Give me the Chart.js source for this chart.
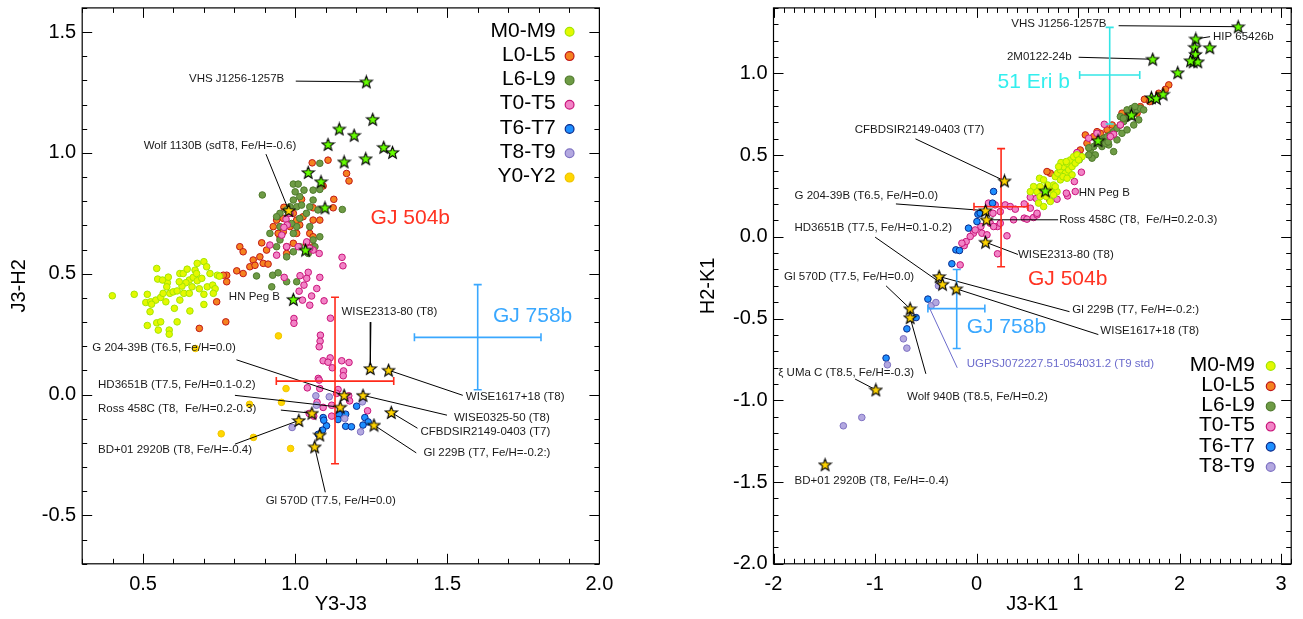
<!DOCTYPE html>
<html>
<head>
<meta charset="utf-8">
<script src="https://cdn.jsdelivr.net/npm/chart.js@4.4.1/dist/chart.umd.min.js"></script>
<style>
  body { margin: 0; background: #fff; }
  #wrap { position: relative; width: 1303px; height: 619px; }
  canvas { position: absolute; top: 0; }
</style>
</head>
<body>
<div id="wrap">
  <canvas id="chartYJ" width="650" height="619" style="left:0"></canvas>
  <canvas id="chartJK" width="653" height="619" style="left:650px"></canvas>
</div>
<script>
const FONT = '"Liberation Sans", Arial, Helvetica, sans-serif';

// --- Spectral classes ---
const classNames = ['M0-M9', 'L0-L5', 'L6-L9', 'T0-T5', 'T6-T7', 'T8-T9', 'Y0-Y2'];
const classFill  = ['#e4f800', '#f5821f', '#6e9b45', '#f283c6', '#1e8fff', '#b3a8e0', '#ffd700'];
const classEdge  = ['#a2e600', '#c01818', '#4f7a2c', '#c8157a', '#0a2a8a', '#7f72c2', '#f0c400'];
const classOrder = [13, 16, 15, 14, 12, 11, 10];

// --- Left panel: Y3-J3 vs J3-H2 ---
const yjM0M9 = [[0.399,0.409],[0.471,0.415],[0.514,0.415],[0.509,0.381],[0.525,0.384],[0.542,0.391],[0.558,0.402],
  [0.545,0.522],[0.548,0.478],[0.580,0.463],[0.588,0.419],[0.575,0.384],[0.564,0.474],[0.583,0.486],[0.599,0.425],
  [0.612,0.429],[0.621,0.501],[0.632,0.501],[0.645,0.519],[0.652,0.474],[0.641,0.463],[0.628,0.449],[0.634,0.419],
  [0.652,0.419],[0.661,0.446],[0.678,0.543],[0.671,0.515],[0.665,0.485],[0.678,0.471],[0.693,0.481],[0.700,0.550],
  [0.709,0.529],[0.685,0.438],[0.700,0.415],[0.711,0.446],[0.729,0.453],[0.737,0.438],[0.731,0.419],[0.744,0.494],
  [0.751,0.490],[0.523,0.343],[0.545,0.297],[0.558,0.301],[0.514,0.286],[0.550,0.267],[0.586,0.267],[0.586,0.250],
  [0.612,0.301],[0.654,0.346],[0.603,0.357],[0.700,0.373],[0.720,0.501],[0.578,0.446],[0.619,0.467],[0.676,0.501],
  [0.621,0.391],[0.528,0.374],[0.566,0.419]];
const yjL0L5 = [[1.056,0.959],[1.108,0.970],[1.169,0.915],[1.177,0.884],[1.127,0.808],[1.125,0.773],[1.092,0.863],
  [0.963,0.775],[1.021,0.808],[1.059,0.773],[0.961,0.729],[0.994,0.750],[1.026,0.736],[1.059,0.722],[1.081,0.722],
  [1.015,0.702],[1.048,0.667],[1.059,0.653],[1.037,0.626],[0.994,0.626],[0.972,0.612],[0.950,0.653],[0.961,0.674],
  [1.005,0.667],[0.890,0.628],[0.818,0.612],[0.829,0.591],[0.884,0.570],[0.862,0.557],[0.895,0.543],[0.911,0.540],
  [0.851,0.529],[0.868,0.535],[0.808,0.512],[0.829,0.501],[0.775,0.494],[0.775,0.467],[0.764,0.494],[0.742,0.384],
  [0.772,0.301],[0.685,0.274],[0.928,0.695],[0.939,0.722],[0.944,0.667],[0.972,0.584],[0.906,0.598],[1.059,0.612],
  [1.005,0.722],[0.983,0.695]];
const yjL6L9 = [[0.892,0.826],[0.994,0.871],[1.010,0.871],[1.029,0.846],[1.059,0.846],[1.081,0.849],[1.155,0.766],
  [1.059,0.805],[1.015,0.819],[0.994,0.805],[0.983,0.777],[0.972,0.764],[0.950,0.750],[0.939,0.736],[1.005,0.777],
  [1.048,0.777],[1.037,0.750],[1.075,0.764],[1.015,0.729],[1.005,0.695],[0.988,0.708],[0.950,0.695],[0.917,0.667],
  [0.939,0.612],[0.994,0.591],[1.015,0.612],[0.972,0.570],[0.950,0.640],[1.059,0.640],[1.081,0.653],[0.873,0.491],
  [0.923,0.446],[0.926,0.494],[0.944,0.504],[0.972,0.467],[1.005,0.467],[1.043,0.584],[1.065,0.612],[1.081,0.957],
  [1.048,0.695],[0.994,0.667],[1.000,0.839],[1.021,0.784]];
const yjT0T5 = [[1.154,0.568],[1.157,0.533],[1.024,0.391],[1.048,0.370],[1.095,0.388],[0.996,0.315],[0.996,0.295],
  [1.116,0.316],[1.083,0.246],[1.082,0.221],[1.115,0.152],[1.153,0.140],[1.159,0.098],[1.158,0.078],[1.122,0.111],
  [1.092,0.140],[1.079,0.198],[1.076,0.067],[1.040,0.028],[1.081,0.025],[1.072,-0.032],[1.038,0.632],[1.016,0.492],
  [1.038,0.481],[1.071,0.439],[1.013,0.428],[1.054,0.408],[1.081,0.485],[1.043,0.506],[1.029,0.453],[0.964,0.485],
  [0.939,0.577],[0.917,0.619],[0.956,0.660],[0.972,0.612],[0.970,0.726],[0.974,0.702],[0.963,0.692],[0.983,0.750],
  [1.059,0.598],[1.079,0.584],[1.010,0.612],[1.048,0.605],[1.108,0.134],[1.177,0.133],[1.079,0.060],[1.141,0.021],
  [1.176,-0.005],[1.092,-0.053],[1.120,-0.044],[1.179,-0.026],[1.238,-0.067],[1.061,-0.089],[1.046,-0.078],
  [1.120,-0.089],[1.136,0.005]];
const yjT6T7 = [[1.202,-0.048],[1.144,-0.081],[1.141,-0.103],[1.166,-0.081],[1.092,-0.095],[1.103,-0.129],
  [1.094,-0.106],[1.166,-0.131],[1.185,-0.133],[1.229,-0.095],[1.240,-0.113],[1.223,-0.126],[1.090,-0.147],
  [1.076,-0.164]];
const yjT8T9 = [[1.068,-0.005],[1.112,-0.009],[1.070,-0.044],[1.163,-0.099],[1.221,-0.030],[1.215,-0.154],[0.990,-0.136]];
const yjY0Y2 = [[0.945,0.243],[0.672,0.191],[0.970,0.025],[0.955,-0.032],[0.850,-0.040],[0.757,-0.162],
  [0.863,-0.177],[0.985,-0.223]];
const yjGreenStars = [[1.234,1.294],[1.255,1.139],[1.145,1.099],[1.194,1.073],[1.108,1.035],[1.291,1.023],
  [1.320,1.002],[1.161,0.963],[1.232,0.976],[1.043,0.919],[1.085,0.881],[1.098,0.773],[1.034,0.598],[0.994,0.394]];
const yjGoldStars = [[0.979,0.762],[1.247,0.108],[1.307,0.101],[1.161,-0.003],[1.223,-0.003],[1.148,-0.052],
  [1.055,-0.077],[1.316,-0.074],[1.012,-0.107],[1.259,-0.126],[1.064,-0.216],[1.081,-0.167]];
// x, xLo, xHi, y, yLo, yHi
const yjGJ504b = [1.131, 0.938, 1.324, 0.056, -0.286, 0.403];
const yjGJ758b = [1.600, 1.392, 1.808, 0.237, 0.020, 0.455];
const yjXTicks = [0.5, 1.0, 1.5, 2.0];
const yjYTicks = [-0.5, 0.0, 0.5, 1.0, 1.5];

// --- Right panel: J3-K1 vs H2-K1 ---
const jkM0M9 = [[0.621,0.358],[0.627,0.307],[0.595,0.276],[0.611,0.206],[0.687,0.246],[0.727,0.287],[0.759,0.317],
  [0.776,0.368],[0.799,0.389],[0.826,0.409],[0.858,0.429],[0.892,0.450],[0.924,0.470],[0.957,0.490],[0.990,0.501],
  [1.039,0.490],[0.875,0.389],[0.908,0.409],[0.941,0.429],[0.826,0.348],[0.852,0.368],[0.793,0.276],[0.759,0.256],
  [0.727,0.216],[0.661,0.185],[0.562,0.307],[0.661,0.348],[0.832,0.454],[0.884,0.460],[0.973,0.450],[0.941,0.379],
  [0.809,0.429],[0.892,0.358],[0.700,0.317],[0.627,0.246],[0.530,0.276],[0.776,0.307],[1.006,0.470]];
const jkL0L5 = [[1.894,0.929],[1.861,0.902],[1.654,0.841],[1.795,0.878],[1.706,0.827],[1.614,0.796],[1.582,0.756],
  [1.450,0.735],[1.433,0.756],[1.336,0.684],[1.286,0.654],[1.220,0.633],[1.154,0.613],[1.088,0.572],[1.022,0.531],
  [0.990,0.511],[0.727,0.389],[0.694,0.399],[1.072,0.623],[1.187,0.643]];
const jkL6L9 = [[1.121,0.531],[1.154,0.552],[1.187,0.572],[1.220,0.582],[1.252,0.603],[1.286,0.613],[1.318,0.623],
  [1.351,0.643],[1.384,0.664],[1.417,0.684],[1.450,0.705],[1.483,0.725],[1.516,0.735],[1.549,0.756],[1.582,0.776],
  [1.614,0.786],[1.647,0.776],[1.351,0.521],[1.302,0.562],[1.384,0.593],[1.433,0.633],[1.483,0.654],[1.549,0.684],
  [1.598,0.715],[1.417,0.735],[1.483,0.776],[1.532,0.786],[1.236,0.552],[1.269,0.572],[1.170,0.501],[1.138,0.481],
  [1.105,0.501],[1.561,0.797],[1.447,0.725],[1.220,0.592],[1.106,0.544],[1.011,0.471],[1.296,0.580]];
const jkT0T5 = [[-0.161,-0.172],[-0.121,-0.054],[-0.102,-0.029],[-0.144,-0.039],[-0.030,0.022],[0.043,0.063],
  [0.135,0.083],[0.207,0.063],[0.300,0.006],[0.207,-0.104],[0.162,0.144],[0.234,0.154],[0.283,0.195],[0.332,0.185],
  [0.365,0.104],[0.184,0.195],[0.118,0.206],[0.053,0.022],[0.103,0.012],[-0.062,0.002],[-0.013,0.042],[0.470,0.114],
  [0.562,0.118],[0.596,0.134],[0.382,0.169],[0.470,0.201],[0.530,0.175],[0.234,0.083],[0.168,0.063],[0.530,0.242],
  [0.628,0.270],[0.720,0.226],[0.793,0.230],[0.897,0.250],[0.973,0.277],[0.964,0.338],[0.990,0.515],[0.589,0.234],
  [1.259,0.688],[1.351,0.627],[1.033,0.395],[0.885,0.267],[0.596,0.144],[0.497,0.108],[1.105,0.603],[1.319,0.613],
  [1.187,0.633],[1.417,0.684]];
const jkT6T7 = [[0.168,0.277],[0.158,0.206],[0.014,0.138],[0.004,0.093],[-0.079,0.053],[-0.203,-0.080],
  [-0.168,-0.084],[-0.243,-0.165],[-0.479,-0.381],[-0.595,-0.494],[-0.686,-0.563],[-0.891,-0.742],[0.036,0.145]];
const jkT8T9 = [[-0.447,-0.422],[-0.400,-0.402],[-0.720,-0.624],[-0.686,-0.681],[-0.878,-0.783],[-1.130,-1.105],
  [-1.312,-1.156],[-0.375,-0.300]];
const jkGreenStars = [[2.578,1.285],[2.160,1.210],[2.298,1.157],[2.150,1.159],[2.157,1.116],[2.134,1.071],
  [2.180,1.071],[2.108,1.077],[1.736,1.086],[1.982,1.004],[1.723,0.851],[1.772,0.847],[1.838,0.872],[1.526,0.745],
  [1.197,0.588],[0.678,0.281]];
const jkGoldStars = [[0.276,0.342],[0.089,0.160],[0.099,0.104],[0.089,-0.033],[-0.368,-0.243],[-0.335,-0.290],
  [-0.200,-0.318],[-0.654,-0.440],[-0.654,-0.494],[-0.992,-0.936],[-1.492,-1.394]];
const jkGJ504b = [0.242, -0.025, 0.507, 0.184, -0.183, 0.539];
const jkGJ758b = [-0.195, -0.479, 0.082, -0.439, -0.683, -0.200];
const jk51Erib = [1.312, 1.016, 1.608, 0.990, 0.690, 1.281];
const jkXTicks = [-2, -1, 0, 1, 2, 3];
const jkYTicks = [-2.0, -1.5, -1.0, -0.5, 0.0, 0.5, 1.0];

// --- Annotations: text, text x/y, leader start x/y, leader end x/y, colour ---
const yjNotes = [
  ['VHS J1256-1257B', 0.651, 1.306, 1.002, 1.297, 1.234, 1.294],
  ['Wolf 1130B (sdT8, Fe/H=-0.6)', 0.502, 1.030, 0.904, 0.995, 0.979, 0.762],
  ['HN Peg B', 0.782, 0.403],
  ['WISE2313-80 (T8)', 1.152, 0.343, 1.249, 0.300, 1.247, 0.108],
  ['G 204-39B (T6.5, Fe/H=0.0)', 0.333, 0.192, 0.807, 0.144, 1.161, -0.003],
  ['HD3651B (T7.5, Fe/H=0.1-0.2)', 0.352, 0.041, 0.802, -0.003, 1.148, -0.052],
  ['Ross 458C (T8,  Fe/H=0.2-0.3)', 0.352, -0.057, 0.953, -0.064, 1.055, -0.077],
  ['BD+01 2920B (T8, Fe/H=-0.4)', 0.352, -0.229, 0.802, -0.205, 1.012, -0.107],
  ['Gl 570D (T7.5, Fe/H=0.0)', 0.903, -0.439, 1.099, -0.404, 1.064, -0.216],
  ['WISE1617+18 (T8)', 1.561, -0.008, 1.551, -0.003, 1.307, 0.101],
  ['WISE0325-50 (T8)', 1.522, -0.098, 1.499, -0.085, 1.223, -0.003],
  ['CFBDSIR2149-0403 (T7)', 1.412, -0.155, 1.402, -0.139, 1.316, -0.074],
  ['Gl 229B (T7, Fe/H=-0.2:)', 1.422, -0.241, 1.398, -0.241, 1.259, -0.126]
];
const jkNotes = [
  ['VHS J1256-1257B', 0.342, 1.302, 1.400, 1.291, 2.578, 1.285],
  ['HIP 65426b', 2.329, 1.224, 2.301, 1.224, 2.160, 1.210],
  ['2M0122-24b', 0.300, 1.098, 1.006, 1.098, 1.736, 1.086],
  ['CFBDSIR2149-0403 (T7)', -1.200, 0.654, -0.601, 0.599, 0.276, 0.342],
  ['G 204-39B (T6.5, Fe/H=0.0)', -1.793, 0.250, -0.794, 0.201, 0.089, 0.160],
  ['Ross 458C (T8,  Fe/H=0.2-0.3)', 0.814, 0.104, 0.803, 0.104, 0.099, 0.104],
  ['HD3651B (T7.5, Fe/H=0.1-0.2)', -1.793, 0.055, -0.999, -0.002, -0.335, -0.290],
  ['Gl 229B (T7, Fe/H=-0.2:)', 0.943, -0.447, 0.916, -0.458, -0.368, -0.243],
  ['WISE1617+18 (T8)', 1.220, -0.574, 1.200, -0.598, -0.200, -0.318],
  ['Gl 570D (T7.5, Fe/H=0.0)', -1.896, -0.243, -0.891, -0.300, -0.654, -0.440],
  ['Wolf 940B (T8.5, Fe/H=0.2)', -0.685, -0.977, -0.499, -0.838, -0.654, -0.494],
  ['\u03BE UMa C (T8.5, Fe/H=-0.3)', -1.953, -0.830, -1.196, -0.870, -0.992, -0.936],
  ['BD+01 2920B (T8, Fe/H=-0.4)', -1.792, -1.495],
  ['WISE2313-80 (T8)', 0.408, -0.108, 0.408, -0.108, 0.089, -0.033],
  ['HN Peg B', 1.007, 0.267],
  ['UGPSJ072227.51-054031.2 (T9 std)', -0.097, -0.777, -0.190, -0.801, -0.468, -0.429, '#6b6bcc']
];
const yjBigNotes = [['GJ 504b', 1.248, 0.729, '#ff3322'], ['GJ 758b', 1.650, 0.326, '#3aa8ff']];
const jkBigNotes = [['51 Eri b', 0.207, 0.943, '#33eeee'], ['GJ 504b', 0.507, -0.257, '#ff3322'],
  ['GJ 758b', -0.097, -0.555, '#3aa8ff']];

function pts(arr) { return arr.map(([x, y]) => ({ x, y })); }

function makeStar(fill) {
  const c = document.createElement('canvas');
  c.width = 15; c.height = 15;
  const g = c.getContext('2d');
  g.beginPath();
  for (let i = 0; i < 10; i++) {
    const r = i % 2 === 0 ? 6.4 : 2.7;
    const ang = -Math.PI / 2 + i * Math.PI / 5;
    const px = 7.5 + r * Math.cos(ang), py = 8 + r * Math.sin(ang);
    if (i === 0) g.moveTo(px, py); else g.lineTo(px, py);
  }
  g.closePath();
  g.fillStyle = fill; g.fill();
  g.lineWidth = 1.1; g.strokeStyle = '#000'; g.stroke();
  return c;
}
const greenStar = makeStar('#66ff00');
const goldStar = makeStar('#ffd400');

function makePanel(canvasId, p) {
  const datasets = [];
  p.classes.forEach((arr, i) => {
    if (!arr) return;
    datasets.push({
      data: pts(arr), pointStyle: 'circle', pointRadius: 3.3,
      backgroundColor: classFill[i], borderColor: classEdge[i], borderWidth: 1, order: classOrder[i]
    });
  });
  p.notes.forEach(n => {
    if (n.length < 7) return;
    datasets.push({
      data: [{ x: n[3], y: n[4] }, { x: n[5], y: n[6] }], showLine: true,
      borderColor: n[7] || '#000', borderWidth: 1, pointRadius: 0, order: 5
    });
  });
  p.bars.forEach(([b, color]) => {
    const [x, xLo, xHi, y, yLo, yHi] = b;
    const common = { showLine: true, borderColor: color, borderWidth: 1.6, pointStyle: 'line',
      pointRadius: 4, pointBorderColor: color, pointBorderWidth: 1.6, order: 4 };
    datasets.push({ ...common, data: [{ x, y: yLo }, { x, y: yHi }], pointRotation: 0 });
    datasets.push({ ...common, data: [{ x: xLo, y }, { x: xHi, y }], pointRotation: 90 });
  });
  datasets.push({ data: pts(p.greenStars), pointStyle: greenStar, pointRadius: 6, order: 1 });
  datasets.push({ data: pts(p.goldStars), pointStyle: goldStar, pointRadius: 6, order: 1 });

  const decor = {
    id: 'decor',
    afterDatasetsDraw(chart) {
      const { ctx, chartArea: a, scales: { x, y } } = chart;
      ctx.save();
      // frame with inward ticks on all sides
      ctx.strokeStyle = '#000';
      ctx.lineWidth = 1.2;
      ctx.strokeRect(a.left, a.top, a.right - a.left, a.bottom - a.top);
      ctx.lineWidth = 1;
      ctx.beginPath();
      for (let i = Math.ceil(p.xRange[0] * 10 - 1e-6); i <= Math.floor(p.xRange[1] * 10 + 1e-6); i++) {
        const px = Math.round(x.getPixelForValue(i / 10)) + 0.5;
        const len = i % p.xMajorEvery === 0 ? 10 : 5;
        ctx.moveTo(px, a.bottom); ctx.lineTo(px, a.bottom - len);
        ctx.moveTo(px, a.top); ctx.lineTo(px, a.top + len);
      }
      for (let i = Math.ceil(p.yRange[0] * 10 - 1e-6); i <= Math.floor(p.yRange[1] * 10 + 1e-6); i++) {
        const py = Math.round(y.getPixelForValue(i / 10)) + 0.5;
        const len = i % p.yMajorEvery === 0 ? 10 : 5;
        ctx.moveTo(a.left, py); ctx.lineTo(a.left + len, py);
        ctx.moveTo(a.right, py); ctx.lineTo(a.right - len, py);
      }
      ctx.stroke();

      // small labels
      ctx.textBaseline = 'middle';
      ctx.textAlign = 'left';
      ctx.font = `11.5px ${FONT}`;
      p.notes.forEach(n => {
        ctx.fillStyle = n[7] || '#1a1a1a';
        ctx.fillText(n[0], x.getPixelForValue(n[1]), y.getPixelForValue(n[2]));
      });
      // planet labels
      ctx.font = `21px ${FONT}`;
      p.bigNotes.forEach(([t, tx, ty, c]) => {
        ctx.fillStyle = c;
        ctx.fillText(t, x.getPixelForValue(tx), y.getPixelForValue(ty));
      });
      // legend
      p.legendClasses.forEach((ci, k) => {
        const ly = p.legendTop + k * p.legendGap;
        ctx.textAlign = 'right';
        ctx.fillStyle = '#000';
        ctx.fillText(classNames[ci], a.right - p.legendTextOff, ly);
        ctx.beginPath();
        ctx.arc(a.right - p.legendMarkerOff, ly + 1, 4.4, 0, Math.PI * 2);
        ctx.fillStyle = classFill[ci]; ctx.fill();
        ctx.lineWidth = 1.2; ctx.strokeStyle = classEdge[ci]; ctx.stroke();
      });
      // axis titles
      ctx.font = `20px ${FONT}`;
      ctx.fillStyle = '#000';
      ctx.textAlign = 'center';
      ctx.fillText(p.xTitle, (a.left + a.right) / 2, 604);
      ctx.translate(p.yTitleX, (a.top + a.bottom) / 2);
      ctx.rotate(-Math.PI / 2);
      ctx.fillText(p.yTitle, 0, 0);
      ctx.restore();
    }
  };

  const tickFont = { family: FONT, size: 20 };
  return new Chart(document.getElementById(canvasId), {
    type: 'scatter',
    data: { datasets },
    options: {
      responsive: false,
      devicePixelRatio: 1,
      animation: false,
      events: [],
      layout: { padding: { top: 7.9, right: p.rightPad, bottom: 0, left: 0 } },
      plugins: { legend: { display: false }, tooltip: { enabled: false } },
      scales: {
        x: {
          type: 'linear', min: p.xRange[0], max: p.xRange[1],
          afterBuildTicks: s => { s.ticks = p.xTicks.map(v => ({ value: v })); },
          afterFit: s => { s.height = 55.2; s.paddingLeft = 0; s.paddingRight = 0; },
          grid: { display: false, drawTicks: false },
          border: { display: false },
          ticks: { color: '#000', font: tickFont, padding: 9, maxRotation: 0, autoSkip: false, callback: p.xFmt }
        },
        y: {
          type: 'linear', min: p.yRange[0], max: p.yRange[1],
          afterBuildTicks: s => { s.ticks = p.yTicks.map(v => ({ value: v })); },
          afterFit: s => { s.width = p.yAxisWidth; s.paddingTop = 0; s.paddingBottom = 0; },
          grid: { display: false, drawTicks: false },
          border: { display: false },
          ticks: { color: '#000', font: tickFont, padding: 6, autoSkip: false, callback: v => v.toFixed(1) }
        }
      }
    },
    plugins: [decor]
  });
}

makePanel('chartYJ', {
  xRange: [0.3, 2.0], yRange: [-0.7, 1.6],
  xTicks: yjXTicks, yTicks: yjYTicks, xFmt: v => v.toFixed(1),
  xMajorEvery: 5, yMajorEvery: 5,
  classes: [yjM0M9, yjL0L5, yjL6L9, yjT0T5, yjT6T7, yjT8T9, yjY0Y2],
  greenStars: yjGreenStars, goldStars: yjGoldStars,
  bars: [[yjGJ504b, '#ff2a1a'], [yjGJ758b, '#3aa8ff']],
  notes: yjNotes, bigNotes: yjBigNotes,
  legendClasses: [0, 1, 2, 3, 4, 5, 6], legendTop: 30.8, legendGap: 24.3,
  legendTextOff: 43.6, legendMarkerOff: 29.8,
  xTitle: 'Y3-J3', yTitle: 'J3-H2', yTitleX: 19,
  yAxisWidth: 82.2, rightPad: 50.6
});

makePanel('chartJK', {
  xRange: [-2, 3.1], yRange: [-2.0, 1.4],
  xTicks: jkXTicks, yTicks: jkYTicks, xFmt: v => String(v),
  xMajorEvery: 10, yMajorEvery: 5,
  classes: [jkM0M9, jkL0L5, jkL6L9, jkT0T5, jkT6T7, jkT8T9, null],
  greenStars: jkGreenStars, goldStars: jkGoldStars,
  bars: [[jkGJ504b, '#ff2a1a'], [jkGJ758b, '#3aa8ff'], [jk51Erib, '#33e6e6']],
  notes: jkNotes, bigNotes: jkBigNotes,
  legendClasses: [0, 1, 2, 3, 4, 5], legendTop: 365, legendGap: 20.2,
  legendTextOff: 36.2, legendMarkerOff: 20.5,
  xTitle: 'J3-K1', yTitle: 'H2-K1', yTitleX: 58.5,
  yAxisWidth: 123.5, rightPad: 11.8
});
</script>
</body>
</html>
